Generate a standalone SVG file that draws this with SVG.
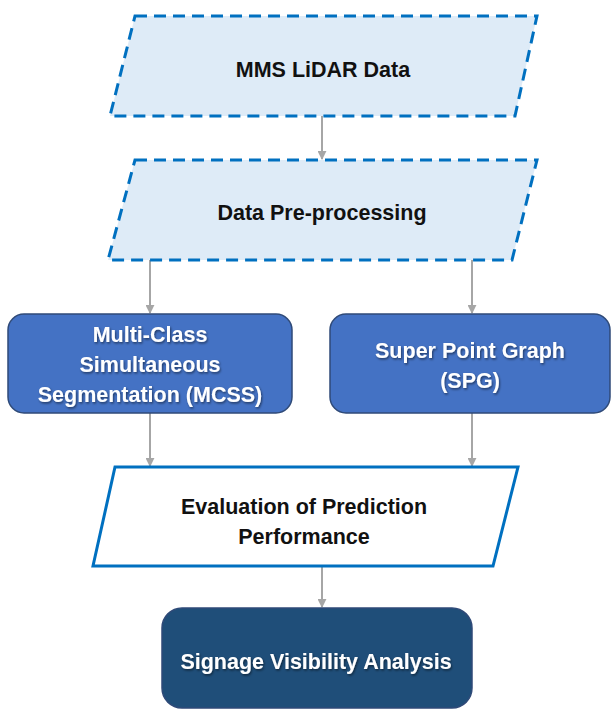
<svg xmlns="http://www.w3.org/2000/svg" width="611" height="711" viewBox="0 0 611 711">
<style>
.io{fill:#DEEBF7;stroke:#0070C0;stroke-width:3;stroke-dasharray:12 7}
.eval{fill:#FFFFFF;stroke:#0070C0;stroke-width:3}
.proc{fill:#4472C4;stroke:#2F4A78;stroke-width:1.5}
.final{fill:#1F4E79;stroke:#2F4A78;stroke-width:1.5}
text{font-family:"Liberation Sans",Arial,sans-serif;font-weight:bold;font-size:21.5px;text-anchor:middle;dominant-baseline:central}
.dark{fill:#111111}
.light{fill:#FFFFFF;filter:url(#sh)}
.conn{stroke:#A6A6A6;stroke-width:2;fill:none;marker-end:url(#ah)}
</style>
<defs>
<marker id="ah" viewBox="0 0 10 10" refX="9" refY="5" markerWidth="4.5" markerHeight="4.5" orient="auto" markerUnits="strokeWidth">
<path d="M0,0 L10,5 L0,10 z" fill="#A6A6A6"/>
</marker>
<filter id="sh" x="-10%" y="-30%" width="120%" height="160%">
<feDropShadow dx="1" dy="1.5" stdDeviation="1" flood-color="#000000" flood-opacity="0.5"/>
</filter>
</defs>
<g id="connectors">
<line class="conn" x1="322" y1="116" x2="322" y2="159"/>
<line class="conn" x1="150" y1="260" x2="150" y2="313"/>
<line class="conn" x1="472" y1="260" x2="472" y2="313"/>
<line class="conn" x1="150" y1="413" x2="150" y2="466"/>
<line class="conn" x1="472" y1="413" x2="472" y2="466"/>
<line class="conn" x1="322" y1="566" x2="322" y2="607"/>
</g>
<g id="mms">
<polygon class="io" points="135,16 537,16 515,116 110,116"/>
<text class="dark" x="323" y="70">MMS LiDAR Data</text>
</g>
<g id="preprocessing">
<polygon class="io" points="135,160 537,160 512,260 108,260"/>
<text class="dark" x="322" y="213">Data Pre-processing</text>
</g>
<g id="mcss">
<rect class="proc" x="8" y="314" width="284" height="99" rx="16"/>
<text class="light" x="150" y="335">Multi-Class</text>
<text class="light" x="150" y="365">Simultaneous</text>
<text class="light" x="150" y="395">Segmentation (MCSS)</text>
</g>
<g id="spg">
<rect class="proc" x="330" y="314" width="280" height="99" rx="16"/>
<text class="light" x="470" y="351">Super Point Graph</text>
<text class="light" x="470" y="381">(SPG)</text>
</g>
<g id="evaluation">
<polygon class="eval" points="115,467 518,467 493,566 93,566"/>
<text class="dark" x="304" y="507">Evaluation of Prediction</text>
<text class="dark" x="304" y="537">Performance</text>
</g>
<g id="signage">
<rect class="final" x="162" y="608" width="310" height="100" rx="20"/>
<text class="light" x="316" y="662">Signage Visibility Analysis</text>
</g>
</svg>
